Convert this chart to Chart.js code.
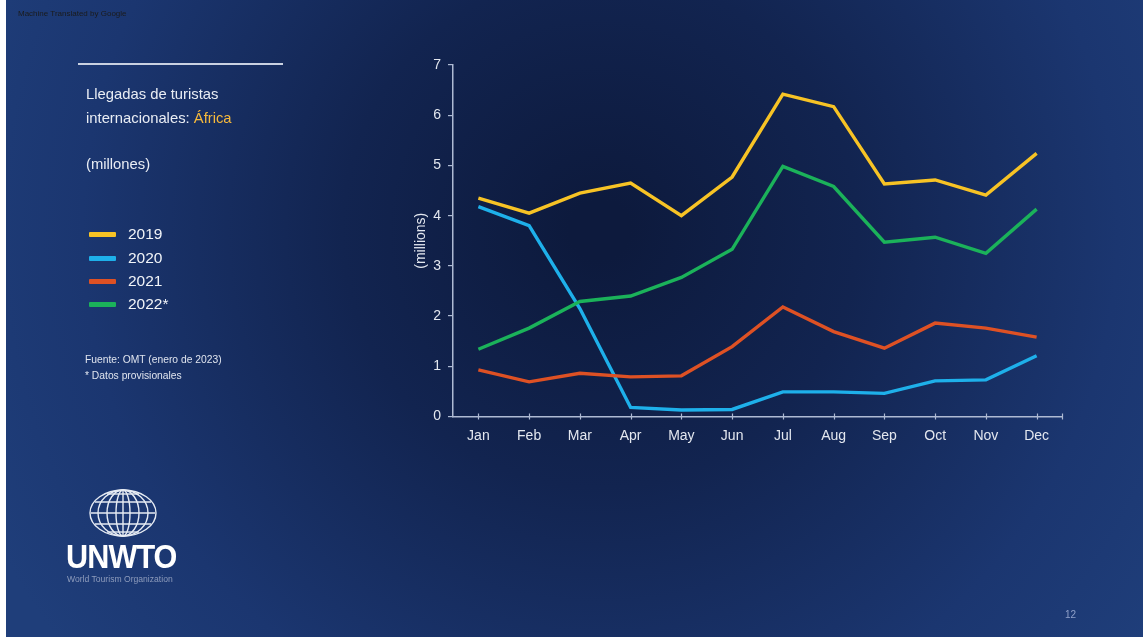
<!DOCTYPE html>
<html lang="es">
<head>
<meta charset="utf-8">
<title>Llegadas de turistas internacionales: África</title>
<script src="https://cdn.jsdelivr.net/npm/chart.js@4/dist/chart.umd.min.js"></script>
<style>
  html, body { margin: 0; padding: 0; background: #ffffff; }
  #slide { position: relative; width: 1143px; height: 641px; overflow: hidden; font-family: "Liberation Sans", Arial, sans-serif; }
  #chart { position: absolute; left: 0; top: 0; }
  .txt { position: absolute; white-space: nowrap; color: #e9edf4; }
  #mt { left: 18px; top: 9px; font-size: 8px; color: #1b1b1b; }
  #rule { position: absolute; left: 78px; top: 63px; width: 205px; height: 1.5px; background: #c9d1e1; }
  #t1 { left: 86px; top: 86px; font-size: 14.8px; }
  #t2 { left: 86px; top: 110px; font-size: 14.8px; }
  #t2 span { color: #f6b93b; }
  #t3 { left: 86px; top: 156px; font-size: 14.8px; }
  .lg { position: absolute; left: 89px; width: 27px; height: 5px; border-radius: 1px; }
  .lgt { position: absolute; left: 128px; font-size: 15.5px; color: #f1f4f8; line-height: 18px; }
  #src1 { left: 85px; top: 354px; font-size: 10.3px; color: #dfe4ee; }
  #src2 { left: 85px; top: 370px; font-size: 10.3px; color: #dfe4ee; }
  #logo { position: absolute; left: 86px; top: 487px; }
  #un { position: absolute; left: 66px; top: 537px; font-size: 34px; font-weight: bold; color: #ffffff; letter-spacing: -1px; transform: scaleX(0.9); transform-origin: left top; line-height: 38px; }
  #wto { left: 67px; top: 574px; font-size: 8.6px; color: #8e9cbc; }
  #pg { left: 1065px; top: 609px; font-size: 10px; color: #8fa0c9; }
</style>
</head>
<body>
<div id="slide">
  <canvas id="chart" width="1143" height="641"></canvas>
  <div class="txt" id="mt">Machine Translated by Google</div>
  <div id="rule"></div>
  <div class="txt" id="t1">Llegadas de turistas</div>
  <div class="txt" id="t2">internacionales: <span>África</span></div>
  <div class="txt" id="t3">(millones)</div>
  <div id="legend"></div>
  <div class="txt" id="src1">Fuente: OMT (enero de 2023)</div>
  <div class="txt" id="src2">* Datos provisionales</div>
  <svg id="logo" width="76" height="54" viewBox="0 0 76 54">
    <g fill="none" stroke="#e6ebf3" stroke-width="1.4">
      <ellipse cx="37" cy="26" rx="33" ry="23"/>
      <ellipse cx="37" cy="26" rx="25" ry="23"/>
      <ellipse cx="37" cy="26" rx="16" ry="23"/>
      <ellipse cx="37" cy="26" rx="7" ry="23"/>
      <line x1="37" y1="3" x2="37" y2="49"/>
      <line x1="5" y1="26" x2="69" y2="26"/>
      <line x1="9" y1="15" x2="65" y2="15"/>
      <line x1="9" y1="37" x2="65" y2="37"/>
      <line x1="21" y1="7" x2="53" y2="7"/>
      <line x1="21" y1="45" x2="53" y2="45"/>
    </g>
  </svg>
  <div id="un">UNWTO</div>
  <div class="txt" id="wto">World Tourism Organization</div>
  <div class="txt" id="pg">12</div>
</div>
<script>
// Monthly international tourist arrivals to Africa (millions)
const months = ["Jan", "Feb", "Mar", "Apr", "May", "Jun", "Jul", "Aug", "Sep", "Oct", "Nov", "Dec"];
const seriesNames = ["2019", "2020", "2021", "2022*"];
const arrivals2019 = [4.35, 4.05, 4.45, 4.65, 4.00, 4.77, 6.42, 6.17, 4.63, 4.71, 4.41, 5.24];
const arrivals2020 = [4.18, 3.80, 2.15, 0.18, 0.13, 0.14, 0.49, 0.49, 0.46, 0.71, 0.73, 1.21];
const arrivals2021 = [0.93, 0.69, 0.86, 0.79, 0.81, 1.39, 2.18, 1.69, 1.36, 1.86, 1.76, 1.58];
const arrivals2022 = [1.34, 1.76, 2.29, 2.40, 2.77, 3.33, 4.98, 4.58, 3.47, 3.57, 3.25, 4.13];
const yTicks = [0, 1, 2, 3, 4, 5, 6, 7];
const seriesColors = ["#f7c325", "#1eb0ea", "#de5124", "#1bb25a"];

// HTML legend on the left panel
const legendBox = document.getElementById("legend");
const legendTop = [234, 258, 281, 304];
seriesNames.forEach((name, i) => {
  const sw = document.createElement("div");
  sw.className = "lg";
  sw.style.top = (legendTop[i] - 2.5) + "px";
  sw.style.background = seriesColors[i];
  legendBox.appendChild(sw);
  const lab = document.createElement("div");
  lab.className = "lgt";
  lab.style.top = (legendTop[i] - 9) + "px";
  lab.textContent = name;
  legendBox.appendChild(lab);
});

// Slide background: dark centre fading to lighter navy edges
const backgroundPlugin = {
  id: "slideBackground",
  beforeDraw(chart) {
    const ctx = chart.ctx;
    ctx.save();
    ctx.fillStyle = "#ffffff";
    ctx.fillRect(0, 0, chart.width, chart.height);
    const g = ctx.createRadialGradient(600, 230, 30, 600, 230, 680);
    g.addColorStop(0, "#0d1a3d");
    g.addColorStop(0.35, "#122450");
    g.addColorStop(0.75, "#1b3670");
    g.addColorStop(1, "#1f3e7a");
    ctx.fillStyle = g;
    ctx.fillRect(6, 0, chart.width - 6, 637);
    ctx.restore();
  }
};

// Tick marks crossing the category axis, plus one closing the axis end
const crossTicksPlugin = {
  id: "crossTicks",
  afterDraw(chart) {
    const xs = chart.scales.x;
    const ctx = chart.ctx;
    const y = xs.top;
    ctx.save();
    ctx.strokeStyle = "#aebad3";
    ctx.lineWidth = 1.2;
    ctx.beginPath();
    for (let i = 0; i < months.length; i++) {
      const x = Math.round(xs.getPixelForTick(i)) + 0.5;
      ctx.moveTo(x, y - 3);
      ctx.lineTo(x, y + 3);
    }
    const xe = Math.round(chart.chartArea.right) + 0.5;
    ctx.moveTo(xe, y - 3);
    ctx.lineTo(xe, y + 3);
    ctx.stroke();
    ctx.restore();
  }
};

const datasets = [arrivals2019, arrivals2020, arrivals2021, arrivals2022].map((vals, i) => ({
  label: seriesNames[i],
  data: vals,
  borderColor: seriesColors[i],
  backgroundColor: seriesColors[i],
  borderWidth: 3.4,
  pointRadius: 0,
  pointHoverRadius: 0,
  tension: 0,
  fill: false,
  borderJoinStyle: "miter"
}));

const tickFont = { family: "'Liberation Sans', Arial, sans-serif", size: 14 };

new Chart(document.getElementById("chart"), {
  type: "line",
  data: { labels: months, datasets: datasets.reverse() },
  plugins: [backgroundPlugin, crossTicksPlugin],
  options: {
    responsive: false,
    devicePixelRatio: 1,
    animation: false,
    events: [],
    layout: { padding: { left: 408, right: 81, top: 65, bottom: 100 } },
    plugins: { legend: { display: false }, tooltip: { enabled: false } },
    scales: {
      x: {
        type: "category",
        offset: true,
        grid: { display: false, drawTicks: false },
        border: { display: true, color: "#aebad3", width: 1.5 },
        ticks: { color: "#e3e7ef", font: tickFont, padding: 11, maxRotation: 0, autoSkip: false },
        afterFit(scale) { scale.height = 641 - 100 - 416.5; }
      },
      y: {
        min: yTicks[0],
        max: yTicks[yTicks.length - 1],
        afterBuildTicks(scale) { scale.ticks = yTicks.map(v => ({ value: v })); },
        grid: { drawOnChartArea: false, drawTicks: true, tickLength: 5, color: "#aebad3", lineWidth: 1.2 },
        border: { display: true, color: "#aebad3", width: 1.5 },
        ticks: { color: "#e3e7ef", font: tickFont, padding: 7 },
        title: { display: true, text: "(millions)", color: "#e3e7ef", font: tickFont, padding: { top: 5, bottom: 4 } },
        afterFit(scale) { scale.width = 453 - 408; }
      }
    }
  }
});
</script>
</body>
</html>
